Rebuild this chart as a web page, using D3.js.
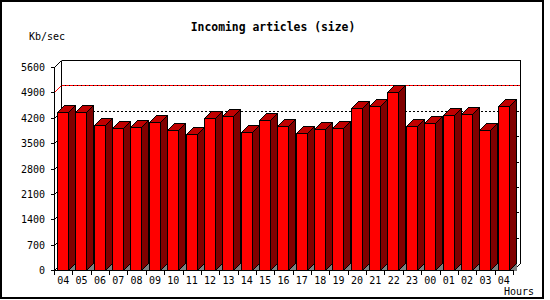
<!DOCTYPE html>
<html>
<head>
<meta charset="utf-8">
<script src="https://d3js.org/d3.v7.min.js"></script>
<style>
  body { margin: 0; background: #fff; }
  text { font-family: "DejaVu Sans Mono", monospace; font-size: 10px; fill: #000; }
</style>
</head>
<body>
<div id="chart"></div>
<script>

// data (Kb/sec per hour)
var hours = ["04","05","06","07","08","09","10","11","12","13","14","15","16",
             "17","18","19","20","21","22","23","00","01","02","03","04"];
var sizes = [4350, 4350, 3990, 3910, 3935, 4075, 3855, 3745, 4185, 4240, 3800, 4130, 3965,
             3770, 3880, 3910, 4460, 4515, 4900, 3965, 4045, 4265, 4305, 3855, 4515];
var yTicks = [0, 700, 1400, 2100, 2800, 3500, 4200, 4900, 5600];

var width = 550, height = 300;
var depth = 7;            // 3d offset, right and up

var svg = d3.select("#chart").append("svg")
    .attr("width", width)
    .attr("height", height)
    .attr("shape-rendering", "crispEdges");

// outer frame
svg.append("rect")
    .attr("x", 1).attr("y", 1)
    .attr("width", 542).attr("height", 297)
    .attr("fill", "none").attr("stroke", "#000").attr("stroke-width", 2);

// scales (front plane)
var x = d3.scaleBand()
    .domain(d3.range(hours.length))
    .range([54, 513]);

var y = d3.scaleLinear()
    .domain([0, 5600])
    .range([270, 67]);

var x0 = x.range()[0], x1 = x.range()[1];
var yb = y(0), yt = y(5600);

function px(v) { return Math.round(v) + 0.5; }

// title + axis labels
svg.append("text")
    .attr("x", 273).attr("y", 31)
    .attr("text-anchor", "middle")
    .style("font-weight", "bold")
    .style("font-size", "11.4px")
    .text("Incoming articles (size)");

svg.append("text")
    .attr("x", 29).attr("y", 40)
    .text("Kb/sec");

svg.append("text")
    .attr("x", 504).attr("y", 295)
    .text("Hours");

var peak = d3.max(sizes);

// back wall: gridlines on every tick (peak line drawn separately in red)
var grid = svg.append("g");
grid.selectAll("line.grid")
  .data(yTicks.slice(1, -1).filter(function(d){ return Math.abs(d - peak) > 50; }))
  .enter().append("line")
    .attr("x1", x0 + depth).attr("x2", x1 + depth)
    .attr("y1", function(d){ return px(y(d) - depth); })
    .attr("y2", function(d){ return px(y(d) - depth); })
    .attr("stroke", "#000")
    .attr("stroke-dasharray", "2,2");

// left wall diagonals for the ticks
grid.selectAll("line.diag")
  .data(yTicks)
  .enter().append("line")
    .attr("x1", px(x0)).attr("y1", function(d){ return px(y(d)); })
    .attr("x2", px(x0 + depth)).attr("y2", function(d){ return px(y(d) - depth); })
    .attr("stroke", "#000")
    .attr("shape-rendering", "auto");

// red line at the peak value
grid.append("line")
    .attr("x1", px(x0 + depth)).attr("x2", px(x1 + depth))
    .attr("y1", px(y(peak) - depth)).attr("y2", px(y(peak) - depth))
    .attr("stroke", "#000");
grid.append("line")
    .attr("x1", px(x0 + depth)).attr("x2", px(x1 + depth))
    .attr("y1", px(y(peak) - depth)).attr("y2", px(y(peak) - depth))
    .attr("stroke", "#ff0000")
    .attr("stroke-dasharray", "3,1");
grid.append("line")
    .attr("x1", px(x0)).attr("y1", px(y(peak)))
    .attr("x2", px(x0 + depth)).attr("y2", px(y(peak) - depth))
    .attr("stroke", "#ff0000")
    .attr("shape-rendering", "auto");

// wall edges
var frame = svg.append("g").attr("stroke", "#000").attr("fill", "none");
frame.append("line")   // top of back wall
    .attr("x1", px(x0 + depth)).attr("x2", px(x1 + depth))
    .attr("y1", px(yt - depth)).attr("y2", px(yt - depth));
frame.append("line")   // right edge of back wall
    .attr("x1", px(x1 + depth)).attr("x2", px(x1 + depth))
    .attr("y1", px(yt - depth)).attr("y2", px(yb - depth));
frame.append("line")   // left edge of back wall
    .attr("x1", px(x0 + depth)).attr("x2", px(x0 + depth))
    .attr("y1", px(yt - depth)).attr("y2", px(yb - depth));
frame.append("line")   // floor, right diagonal
    .attr("x1", px(x1)).attr("y1", px(yb))
    .attr("x2", px(x1 + depth)).attr("y2", px(yb - depth))
    .attr("shape-rendering", "auto");

// bars, left to right so each front covers the previous side
var barW = 11;
var bars = svg.append("g").selectAll("g")
  .data(sizes)
  .enter().append("g")
    .attr("stroke", "#000")
    .attr("stroke-linejoin", "miter");

function poly(pts) { return "M" + pts.map(function(p){ return p.join(","); }).join("L") + "Z"; }

bars.each(function(d, i) {
  var g = d3.select(this);
  var l = Math.round(x(i)) + 3.5, r = l + barW;
  var t = Math.round(y(d)) + 0.5, b = px(yb);

  // floor shadow
  g.append("path")
    .attr("d", poly([[r, b], [r + depth, b - depth], [r + depth, b]]))
    .attr("fill", "#808080").attr("stroke", "none");
  // side
  g.append("path")
    .attr("d", poly([[r, t], [r + depth, t - depth], [r + depth, b - depth], [r, b]]))
    .attr("fill", "#800000");
  // top
  g.append("path")
    .attr("d", poly([[l, t], [l + depth, t - depth], [r + depth, t - depth], [r, t]]))
    .attr("fill", "#c00000");
  // front
  g.append("rect")
    .attr("x", l).attr("y", t)
    .attr("width", barW).attr("height", b - t)
    .attr("fill", "#ff0000");
});

// y axis
var yAxis = svg.append("g");
yAxis.append("line")
    .attr("x1", px(x0)).attr("x2", px(x0))
    .attr("y1", px(yt)).attr("y2", px(yb))
    .attr("stroke", "#000");
yAxis.selectAll("line.tick")
  .data(yTicks)
  .enter().append("line")
    .attr("x1", px(x0 - 4)).attr("x2", px(x0))
    .attr("y1", function(d){ return px(y(d)); })
    .attr("y2", function(d){ return px(y(d)); })
    .attr("stroke", "#000");
yAxis.selectAll("text")
  .data(yTicks)
  .enter().append("text")
    .attr("x", 45)
    .attr("y", function(d){ return Math.round(y(d)) + 4; })
    .attr("text-anchor", "end")
    .text(function(d){ return d; });

// x axis
var xAxis = svg.append("g");
xAxis.append("line")
    .attr("x1", px(x0)).attr("x2", px(x1))
    .attr("y1", px(yb)).attr("y2", px(yb))
    .attr("stroke", "#000");
xAxis.selectAll("line.tick")
  .data(d3.range(hours.length + 1))
  .enter().append("line")
    .attr("x1", function(i){ return px(x0 + i * x.step()); })
    .attr("x2", function(i){ return px(x0 + i * x.step()); })
    .attr("y1", px(yb)).attr("y2", px(yb + 4))
    .attr("stroke", "#000");
xAxis.selectAll("text")
  .data(hours)
  .enter().append("text")
    .attr("x", function(d, i){ return x(i) + x.bandwidth() / 2; })
    .attr("y", 284)
    .attr("text-anchor", "middle")
    .text(function(d){ return d; });

</script>
</body>
</html>
